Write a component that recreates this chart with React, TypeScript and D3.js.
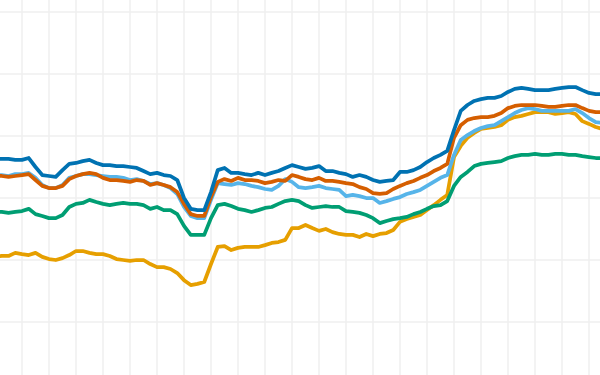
import * as d3 from 'd3';

const WIDTH = 600;
const HEIGHT = 375;

// one observation every step; a vertical grid line every 4 steps
const steps = d3.range(91);

const blue = [
  52.6, 52.6, 52.6, 52.3, 52.3, 52.9, 50.0, 47.4, 47.1, 46.8,
  49.0, 51.0, 51.3, 51.9, 52.3, 51.3, 50.6, 50.6, 50.3, 50.3,
  50.0, 49.7, 48.7, 47.7, 48.1, 47.4, 47.1, 45.8, 40.0, 36.5,
  36.1, 36.1, 41.9, 49.0, 49.7, 48.1, 48.1, 47.7, 47.4, 48.1,
  47.4, 48.1, 48.7, 49.7, 50.6, 50.0, 49.4, 49.7, 50.3, 48.7,
  48.7, 48.1, 47.7, 46.8, 47.4, 46.8, 45.8, 45.2, 45.5, 45.8,
  48.4, 48.4, 49.0, 50.0, 51.6, 52.9, 53.9, 55.2, 61.9, 68.1,
  70.0, 71.3, 71.9, 72.3, 72.3, 72.9, 74.2, 75.2, 75.5, 75.2,
  74.8, 74.8, 74.8, 75.2, 75.5, 75.8, 75.8, 74.8, 73.9, 73.5, 73.5,
];

const vermillion = [
  47.1, 47.1, 46.8, 47.1, 47.4, 47.7, 45.8, 43.9, 43.2, 43.2,
  43.9, 46.1, 47.1, 47.7, 48.1, 47.7, 46.5, 45.8, 45.8, 45.5,
  45.2, 45.8, 45.5, 44.2, 44.8, 44.2, 43.5, 41.9, 38.1, 34.8,
  34.2, 34.2, 40.3, 45.2, 46.1, 45.5, 46.5, 45.8, 45.8, 45.5,
  44.8, 45.2, 45.8, 45.5, 47.4, 46.8, 46.1, 45.8, 46.5, 45.5,
  45.5, 45.2, 44.8, 44.5, 43.5, 42.9, 41.6, 41.3, 41.6, 42.9,
  43.9, 44.8, 45.5, 46.5, 47.4, 48.7, 49.7, 51.0, 59.4, 63.5,
  65.2, 65.8, 66.1, 66.1, 66.5, 67.4, 69.0, 69.7, 70.0, 70.0,
  70.0, 69.7, 69.4, 69.4, 69.7, 70.0, 70.0, 69.0, 68.1, 67.7, 67.7,
];

const skyBlue = [
  47.4, 47.4, 47.1, 47.7, 47.7, 48.1, 46.5, 44.2, 43.2, 43.2,
  44.2, 46.5, 47.1, 47.7, 47.7, 47.4, 47.1, 46.8, 46.8, 46.5,
  45.8, 46.1, 45.5, 44.5, 44.8, 44.2, 43.2, 41.3, 37.1, 34.2,
  33.5, 33.5, 39.4, 44.8, 44.5, 44.2, 44.8, 44.5, 43.9, 43.5,
  42.9, 42.6, 43.9, 46.1, 45.2, 43.5, 43.2, 43.5, 43.9, 43.2,
  42.9, 42.6, 40.6, 41.0, 40.6, 40.0, 40.0, 38.4, 39.0, 39.7,
  40.3, 41.3, 41.9, 42.6, 43.9, 45.2, 46.5, 47.4, 53.9, 58.7,
  60.3, 61.6, 62.6, 63.2, 63.5, 64.8, 66.1, 67.4, 68.4, 69.0,
  68.7, 68.1, 68.1, 68.1, 68.1, 68.1, 68.7, 67.4, 65.8, 64.5, 64.2,
];

const green = [
  35.5, 35.5, 35.2, 35.5, 35.8, 36.5, 34.8, 34.2, 33.5, 33.5,
  34.5, 37.1, 38.1, 38.4, 39.4, 38.7, 38.1, 37.7, 38.1, 38.4,
  38.1, 38.1, 37.7, 36.5, 37.1, 36.1, 36.1, 34.8, 31.0, 28.1,
  28.1, 28.1, 33.5, 37.7, 38.1, 37.4, 36.5, 36.1, 35.5, 36.1,
  36.8, 37.1, 38.1, 39.0, 39.4, 39.0, 37.7, 36.8, 37.1, 37.4,
  37.1, 37.1, 35.8, 35.5, 35.2, 34.5, 33.5, 31.9, 32.6, 33.2,
  33.5, 33.9, 34.8, 35.5, 36.5, 37.4, 37.7, 39.0, 43.9, 46.8,
  48.4, 50.3, 51.0, 51.3, 51.6, 51.9, 52.9, 53.5, 53.9, 53.9,
  54.2, 53.9, 53.9, 54.2, 54.2, 53.9, 53.9, 53.5, 53.2, 52.9, 52.9,
];

const orange = [
  21.0, 21.3, 21.3, 22.3, 21.9, 21.6, 22.3, 21.0, 20.3, 20.0,
  20.6, 21.6, 22.9, 22.9, 22.3, 21.9, 21.9, 21.3, 20.3, 20.0,
  19.7, 20.0, 20.0, 18.7, 17.7, 17.7, 17.1, 15.8, 13.5, 11.9,
  12.3, 12.9, 18.7, 24.2, 24.5, 23.2, 23.9, 24.2, 24.2, 24.2,
  24.8, 25.5, 25.8, 26.5, 30.3, 30.3, 31.3, 30.3, 29.4, 30.0,
  29.0, 28.4, 28.1, 28.1, 27.4, 28.4, 27.7, 28.4, 28.7, 29.7,
  32.3, 33.2, 33.9, 34.5, 36.1, 37.7, 39.4, 41.0, 53.2, 56.8,
  59.4, 61.0, 62.3, 62.6, 62.9, 63.5, 65.2, 66.1, 66.5, 67.1,
  67.7, 67.7, 67.7, 67.1, 67.4, 67.7, 67.1, 64.8, 63.9, 62.9, 62.3,
];

// drawing order: first is at the bottom
const series = [
  { name: 'orange', color: '#E69F00', values: orange },
  { name: 'green', color: '#009E73', values: green },
  { name: 'skyBlue', color: '#56B4E9', values: skyBlue },
  { name: 'vermillion', color: '#D55E00', values: vermillion },
  { name: 'blue', color: '#0072B2', values: blue },
];

const yTicks = [0, 20, 40, 60, 80, 100];

const App = () => {
  const x = d3.scaleLinear().domain([0, 4]).range([-5, 22]);
  const y = d3.scaleLinear().domain([0, 100]).range([322, 12]);

  const xGrid = steps.filter((i) => i > 0 && i % 4 === 0);

  const line = d3
    .line<number>()
    .x((d, i) => x(steps[i]))
    .y((d) => y(d));

  return (
    <svg
      width={WIDTH}
      height={HEIGHT}
      style={{ position: 'absolute', left: 0, top: 0, background: '#fff' }}
    >
      <g stroke="#efefef" strokeWidth={1.5}>
        {yTicks.map((t) => (
          <line key={'h' + t} x1={0} x2={WIDTH} y1={y(t)} y2={y(t)} />
        ))}
        {xGrid.map((i) => (
          <line key={'v' + i} x1={x(i)} x2={x(i)} y1={0} y2={HEIGHT} />
        ))}
      </g>
      <g fill="none" strokeWidth={3.75} strokeLinejoin="round" strokeLinecap="round">
        {series.map((s) => (
          <path key={s.name} d={line(s.values) ?? ''} stroke={s.color} />
        ))}
      </g>
    </svg>
  );
};

export default App;
